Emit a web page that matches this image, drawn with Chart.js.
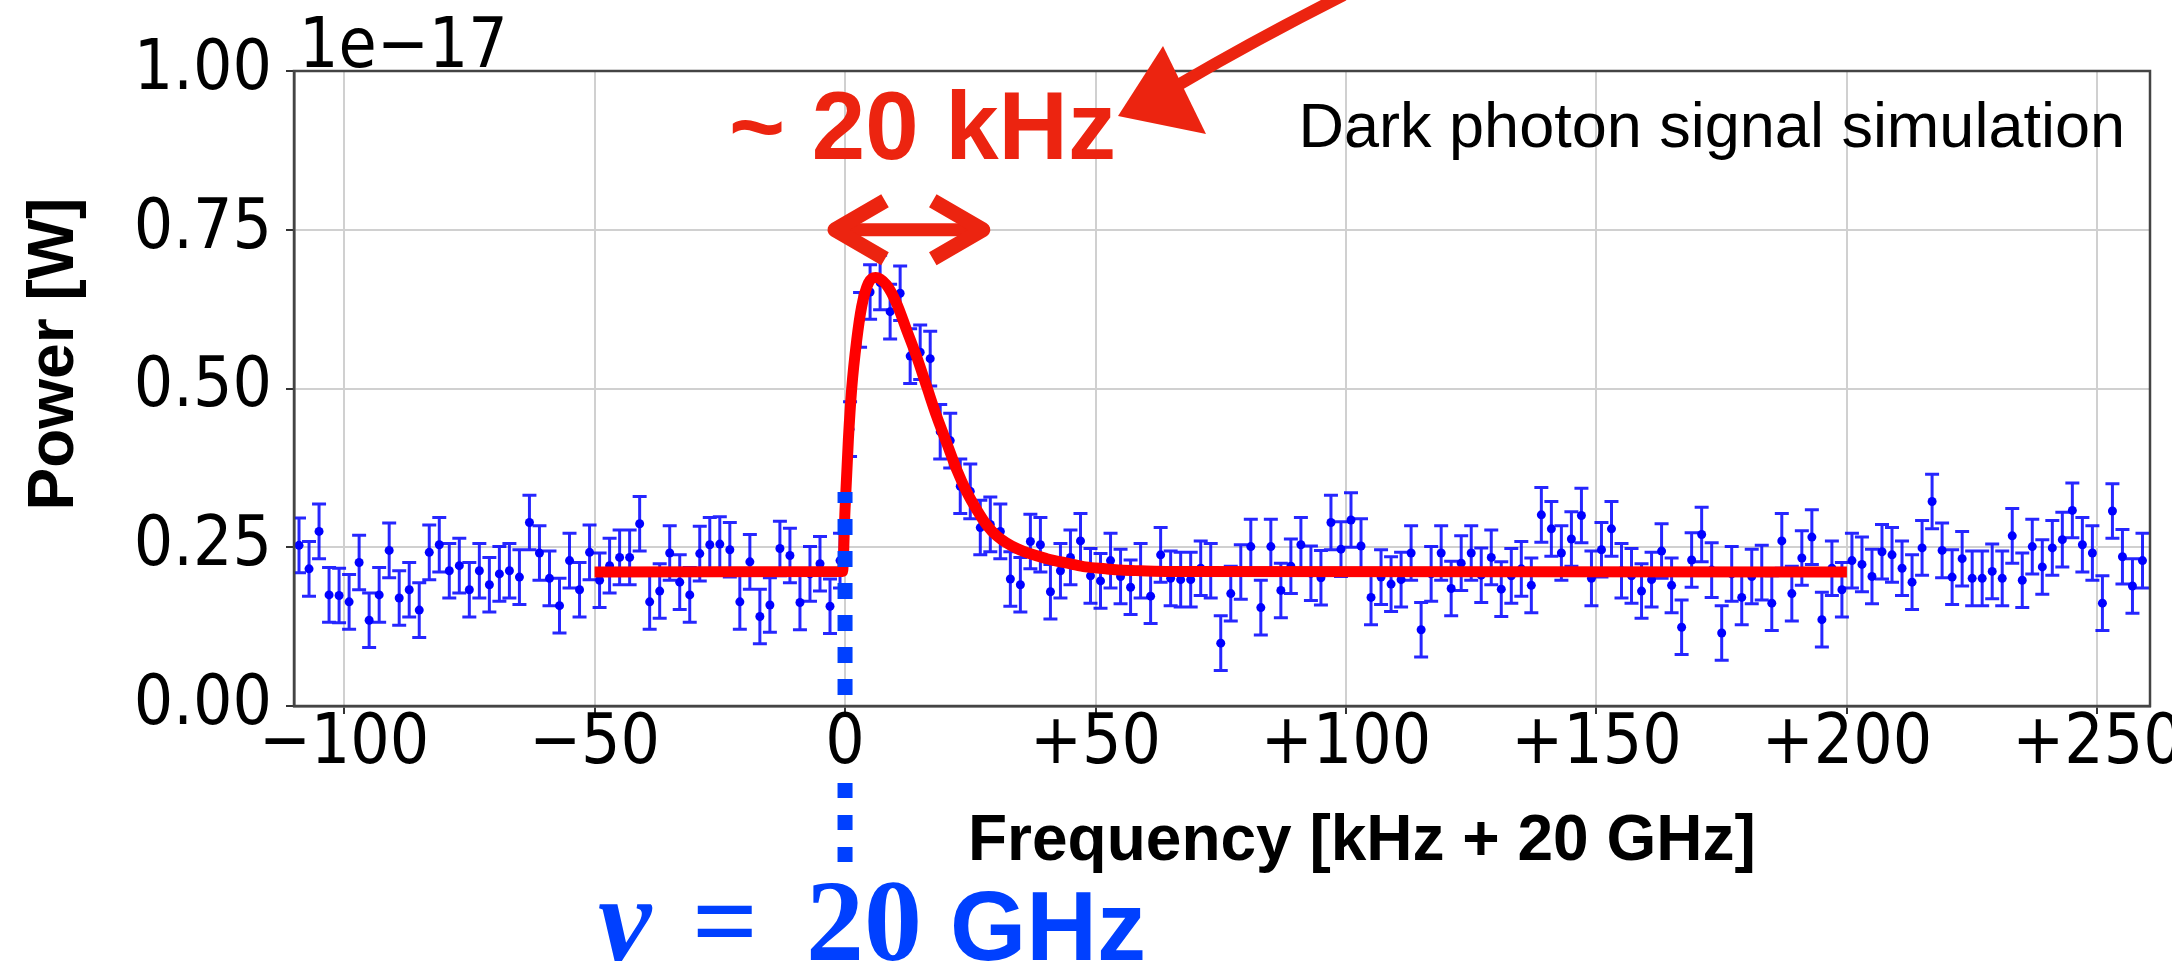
<!DOCTYPE html>
<html>
<head>
<meta charset="utf-8">
<script src="https://cdn.jsdelivr.net/npm/chart.js@4.4.1/dist/chart.umd.min.js"></script>
<style>
  html, body { margin: 0; padding: 0; background: #fff; }
  #wrap { width: 2172px; height: 962px; position: relative; }
</style>
</head>
<body>
<div id="wrap"><canvas id="chart"></canvas></div>
<script>
// frequency offset of each bin [kHz + 20 GHz]
const freqKHz = [
  -109, -107, -105, -103, -101, -99, -97, -95, -93, -91,
  -89, -87, -85, -83, -81, -79, -77, -75, -73, -71,
  -69, -67, -65, -63, -61, -59, -57, -55, -53, -51,
  -49, -47, -45, -43, -41, -39, -37, -35, -33, -31,
  -29, -27, -25, -23, -21, -19, -17, -15, -13, -11,
  -9, -7, -5, -3, -1, 1, 3, 5, 7, 9,
  11, 13, 15, 17, 19, 21, 23, 25, 27, 29,
  31, 33, 35, 37, 39, 41, 43, 45, 47, 49,
  51, 53, 55, 57, 59, 61, 63, 65, 67, 69,
  71, 73, 75, 77, 79, 81, 83, 85, 87, 89,
  91, 93, 95, 97, 99, 101, 103, 105, 107, 109,
  111, 113, 115, 117, 119, 121, 123, 125, 127, 129,
  131, 133, 135, 137, 139, 141, 143, 145, 147, 149,
  151, 153, 155, 157, 159, 161, 163, 165, 167, 169,
  171, 173, 175, 177, 179, 181, 183, 185, 187, 189,
  191, 193, 195, 197, 199, 201, 203, 205, 207, 209,
  211, 213, 215, 217, 219, 221, 223, 225, 227, 229,
  231, 233, 235, 237, 239, 241, 243, 245, 247, 249,
  251, 253, 255, 257, 259
];
// simulated power per bin, units of 1e-17 W
const powerE17 = [
  0.253, 0.216, 0.275, 0.175, 0.174, 0.164, 0.226, 0.135, 0.175, 0.245,
  0.170, 0.183, 0.151, 0.242, 0.254, 0.213, 0.221, 0.183, 0.213, 0.191,
  0.208, 0.213, 0.203, 0.289, 0.241, 0.201, 0.158, 0.229, 0.183, 0.242,
  0.198, 0.221, 0.234, 0.234, 0.287, 0.164, 0.181, 0.241, 0.195, 0.175,
  0.240, 0.254, 0.255, 0.246, 0.164, 0.227, 0.141, 0.159, 0.248, 0.237,
  0.163, 0.208, 0.224, 0.157, 0.229, 0.436, 0.608, 0.652, 0.667, 0.621,
  0.650, 0.551, 0.557, 0.547, 0.432, 0.418, 0.346, 0.338, 0.281, 0.286,
  0.275, 0.200, 0.191, 0.259, 0.254, 0.180, 0.213, 0.234, 0.260, 0.205,
  0.197, 0.229, 0.204, 0.187, 0.213, 0.173, 0.238, 0.201, 0.199, 0.199,
  0.217, 0.213, 0.099, 0.177, 0.211, 0.251, 0.155, 0.251, 0.182, 0.220,
  0.254, 0.209, 0.202, 0.289, 0.247, 0.293, 0.252, 0.171, 0.203, 0.192,
  0.199, 0.241, 0.120, 0.208, 0.241, 0.185, 0.225, 0.241, 0.206, 0.234,
  0.184, 0.205, 0.216, 0.190, 0.301, 0.279, 0.241, 0.263, 0.300, 0.201,
  0.246, 0.279, 0.213, 0.205, 0.181, 0.199, 0.244, 0.190, 0.124, 0.230,
  0.270, 0.214, 0.115, 0.208, 0.171, 0.204, 0.210, 0.162, 0.260, 0.177,
  0.233, 0.266, 0.136, 0.217, 0.183, 0.229, 0.223, 0.204, 0.243, 0.238,
  0.217, 0.195, 0.249, 0.322, 0.245, 0.203, 0.232, 0.201, 0.201, 0.212,
  0.201, 0.268, 0.198, 0.251, 0.219, 0.249, 0.262, 0.308, 0.254, 0.241,
  0.162, 0.307, 0.235, 0.189, 0.229
];
const errHalf = 0.043;

// red fit line
const fitKHz = [-50, -0.5, 0, 0.67, 1.33, 2.33, 3.32, 4.66, 6.1, 8.3, 10.3, 12.3, 14.3, 16.3, 18.3,
  20.3, 22.3, 24.3, 26.3, 28.3, 30.3, 34.3, 40.3, 45, 48, 52, 55, 59, 65, 200];
const fitPower = [0.211, 0.212, 0.31, 0.42, 0.50, 0.576, 0.629, 0.666, 0.675, 0.663, 0.634, 0.592, 0.550, 0.503, 0.456,
  0.414, 0.372, 0.337, 0.309, 0.285, 0.268, 0.248, 0.232, 0.224, 0.219, 0.216, 0.214, 0.213, 0.212, 0.211];

const xTicks = [-100, -50, 0, 50, 100, 150, 200, 250];
const xTickLabels = ['\u2212100', '\u221250', '0', '+50', '+100', '+150', '+200', '+250'];
const yTicks = [0, 0.25, 0.5, 0.75, 1.0];
const yTickLabels = ['0.00', '0.25', '0.50', '0.75', '1.00'];

const tickFont = { family: "'DejaVu Sans Condensed', 'DejaVu Sans', sans-serif", size: 69, lineHeight: 1 };
const sans = "'Liberation Sans', Arial, Helvetica, sans-serif";
const serif = "'Liberation Serif', 'Times New Roman', serif";
const annRed = '#ec2410';
const annBlue = '#0040ff';

const errorBars = {
  id: 'errorBars',
  beforeDatasetsDraw(chart) {
    const { ctx, chartArea: a } = chart;
    const x = chart.scales.x, y = chart.scales.y;
    ctx.save();
    ctx.beginPath();
    ctx.rect(a.left, a.top, a.right - a.left, a.bottom - a.top);
    ctx.clip();
    ctx.strokeStyle = 'rgba(0,0,255,0.85)';
    ctx.lineWidth = 3;
    ctx.beginPath();
    freqKHz.forEach((f, i) => {
      const px = x.getPixelForValue(f);
      const lo = y.getPixelForValue(powerE17[i] - errHalf);
      const hi = y.getPixelForValue(powerE17[i] + errHalf);
      ctx.moveTo(px, lo); ctx.lineTo(px, hi);
      ctx.moveTo(px - 7, lo); ctx.lineTo(px + 7, lo);
      ctx.moveTo(px - 7, hi); ctx.lineTo(px + 7, hi);
    });
    ctx.stroke();
    ctx.restore();
  }
};

const annotations = {
  id: 'annotations',
  afterDraw(chart) {
    const { ctx, chartArea: a } = chart;
    const x = chart.scales.x, y = chart.scales.y;
    ctx.save();

    // frame
    ctx.strokeStyle = '#444';
    ctx.lineWidth = 2.5;
    ctx.strokeRect(a.left, a.top, a.right - a.left, a.bottom - a.top);

    // nu = 20 GHz marker
    const x0 = x.getPixelForValue(0);
    ctx.strokeStyle = annBlue;
    ctx.lineWidth = 15;
    ctx.setLineDash([16, 16]);
    ctx.lineDashOffset = 5;
    ctx.beginPath();
    ctx.moveTo(x0, y.getPixelForValue(0.337));
    ctx.lineTo(x0, a.bottom);
    ctx.stroke();
    ctx.setLineDash([15, 17]);
    ctx.lineDashOffset = 0;
    ctx.beginPath();
    ctx.moveTo(x0, a.bottom + 77);
    ctx.lineTo(x0, a.bottom + 157);
    ctx.stroke();
    ctx.setLineDash([]);

    // offset text
    ctx.fillStyle = '#000';
    ctx.font = "69px 'DejaVu Sans Condensed', 'DejaVu Sans', sans-serif";
    ctx.textAlign = 'left';
    ctx.textBaseline = 'alphabetic';
    ctx.fillText('1e\u221217', a.left + 5, 67);

    // axis titles
    ctx.font = 'bold 64px ' + sans;
    ctx.fillText('Frequency [kHz + 20 GHz]', 968, 860);
    ctx.save();
    ctx.translate(73, 354);
    ctx.rotate(-Math.PI / 2);
    ctx.textAlign = 'center';
    ctx.fillText('Power [W]', 0, 0);
    ctx.restore();

    ctx.font = '63px ' + sans;
    ctx.textAlign = 'right';
    ctx.fillText('Dark photon signal simulation', a.right - 25, 147);

    // width annotation
    ctx.fillStyle = annRed;
    ctx.strokeStyle = annRed;
    ctx.textAlign = 'left';
    ctx.font = 'bold 96px ' + sans;
    ctx.fillText('~ 20 kHz', 729, 159);

    const ay = y.getPixelForValue(0.75);
    const ax1 = x.getPixelForValue(-2), ax2 = x.getPixelForValue(27.5);
    ctx.lineWidth = 13;
    ctx.beginPath();
    ctx.moveTo(ax1 + 4, ay); ctx.lineTo(ax2 - 4, ay);
    ctx.stroke();
    ctx.lineWidth = 15;
    ctx.lineJoin = 'round';
    ctx.lineCap = 'butt';
    ctx.beginPath();
    ctx.moveTo(ax1 + 50, ay - 29); ctx.lineTo(ax1, ay); ctx.lineTo(ax1 + 50, ay + 29);
    ctx.moveTo(ax2 - 50, ay - 29); ctx.lineTo(ax2, ay); ctx.lineTo(ax2 - 50, ay + 29);
    ctx.stroke();

    // hand drawn pointer
    ctx.lineWidth = 12;
    ctx.lineCap = 'round';
    ctx.beginPath();
    ctx.moveTo(1180, 84);
    ctx.quadraticCurveTo(1255, 40, 1342, -4);
    ctx.stroke();
    ctx.beginPath();
    ctx.moveTo(1118, 116);
    ctx.lineTo(1163, 46);
    ctx.lineTo(1206, 134);
    ctx.closePath();
    ctx.fill();

    // nu label
    ctx.fillStyle = annBlue;
    ctx.font = 'italic bold 120px ' + serif;
    ctx.fillText('\u03BD', 598, 960);
    ctx.font = 'bold 116px ' + serif;
    ctx.fillText('=', 692, 960);
    ctx.fillText('20', 806, 960);
    ctx.font = 'bold 98px ' + sans;
    ctx.fillText('GHz', 950, 960);

    ctx.restore();
  }
};

new Chart(document.getElementById('chart'), {
  type: 'scatter',
  data: {
    datasets: [
      {
        label: 'fit',
        data: fitKHz.map((f, i) => ({ x: f, y: fitPower[i] })),
        showLine: true,
        borderColor: '#ff0000',
        borderWidth: 11,
        borderCapStyle: 'butt',
        pointRadius: 0,
        cubicInterpolationMode: 'monotone'
      },
      {
        label: 'simulation',
        data: freqKHz.map((f, i) => ({ x: f, y: powerE17[i] })),
        pointRadius: 4.5,
        pointBackgroundColor: '#0000ff',
        pointBorderWidth: 0
      }
    ]
  },
  options: {
    responsive: true,
    maintainAspectRatio: false,
    animation: false,
    devicePixelRatio: 1,
    layout: { padding: { top: 71, right: 22, left: 0, bottom: 0 } },
    plugins: { legend: { display: false }, tooltip: { enabled: false } },
    scales: {
      x: {
        type: 'linear',
        min: -110,
        max: 260.5,
        afterBuildTicks: (ax) => { ax.ticks = xTicks.map(v => ({ value: v })); },
        afterFit: (s) => { s.height = 256; s.paddingLeft = 0; s.paddingRight = 0; },
        ticks: {
          callback: (v) => xTickLabels[xTicks.indexOf(v)],
          font: tickFont,
          color: '#000',
          padding: -3,
          autoSkip: false,
          maxRotation: 0,
          minRotation: 0
        },
        grid: { color: '#d0d0d0', lineWidth: 2, tickColor: '#333', tickLength: 8, tickWidth: 2 },
        border: { display: true, color: '#444', width: 2.5 }
      },
      y: {
        min: 0,
        max: 1,
        afterBuildTicks: (ax) => { ax.ticks = yTicks.map(v => ({ value: v })); },
        afterFit: (s) => { s.width = 294; s.paddingTop = 0; s.paddingBottom = 0; },
        ticks: {
          callback: (v) => yTickLabels[yTicks.indexOf(v)],
          font: tickFont,
          color: '#000',
          padding: 14
        },
        grid: { color: '#d0d0d0', lineWidth: 2, tickColor: '#333', tickLength: 8, tickWidth: 2 },
        border: { display: true, color: '#444', width: 2.5 }
      }
    }
  },
  plugins: [errorBars, annotations]
});
</script>
</body>
</html>
